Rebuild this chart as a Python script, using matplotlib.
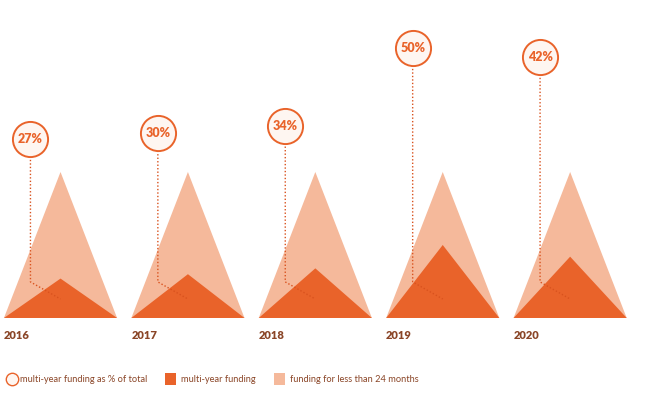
import matplotlib.pyplot as plt
from matplotlib.patches import Polygon, Rectangle

# data
years = ["2016", "2017", "2018", "2019", "2020"]
multi_year_pct = [27, 30, 34, 50, 42]
bubble_height = [122.6, 126.5, 131.7, 184.9, 178.8]  # label bubble position (layout)

DARK = "#E9632A"
LIGHT = "#F5B99B"
BROWN = "#8A4527"
BUBBLE_FILL = "#FEF6F1"

plt.rcParams['font.family'] = ['Lato', 'DejaVu Sans']

fig = plt.figure(figsize=(6.62, 4.05), dpi=100)
ax = fig.add_axes([0, 0, 1, 1])
ax.set_xlim(-0.475, 4.721)
ax.set_ylim(-59.6, 217.8)
ax.axis('off')

half = 0.444
total = 100
for i, (yr, pct, by) in enumerate(zip(years, multi_year_pct, bubble_height)):
    ax.add_patch(Polygon([(i - half, 0), (i, total), (i + half, 0)], closed=True,
                         facecolor=LIGHT, edgecolor='none', zorder=1))
    ax.add_patch(Polygon([(i - half, 0), (i, pct), (i + half, 0)], closed=True,
                         facecolor=DARK, edgecolor='none', zorder=2))
    bx = i - 0.236
    # dotted leader line
    ax.plot([bx, bx, i], [by, 24.7, 13], color="#D9521E", lw=1.0, ls=(0, (1, 1.5)), zorder=3)
    ax.scatter([bx], [by], s=640, facecolor=BUBBLE_FILL, edgecolor=DARK, linewidth=1.4, zorder=4)
    ax.text(bx, by, f"{pct}%", ha='center', va='center', fontsize=9, fontweight='heavy',
            color=DARK, zorder=5)
    ax.text(i - half, -12.3, yr, ha='left', va='center', fontsize=8, fontweight='heavy', color=BROWN)

# legend
ly = 1 - 379 / 405
ax.scatter([12 / 662], [ly], s=80, facecolor=BUBBLE_FILL, edgecolor=DARK, linewidth=1.0,
           transform=fig.transFigure, clip_on=False)
fig.text(20 / 662, ly, "multi-year funding as % of total", ha='left', va='center',
         fontsize=6.7, color=BROWN)
fig.add_artist(Rectangle((165 / 662, ly - 6 / 405), 11 / 662, 12 / 405,
                         transform=fig.transFigure, facecolor=DARK, edgecolor='none'))
fig.text(181 / 662, ly, "multi-year funding", ha='left', va='center',
         fontsize=6.7, color=BROWN)
fig.add_artist(Rectangle((274 / 662, ly - 6 / 405), 11 / 662, 12 / 405,
                         transform=fig.transFigure, facecolor=LIGHT, edgecolor='none'))
fig.text(290 / 662, ly, "funding for less than 24 months", ha='left', va='center',
         fontsize=6.7, color=BROWN)

fig.savefig("out.png", dpi=100)
